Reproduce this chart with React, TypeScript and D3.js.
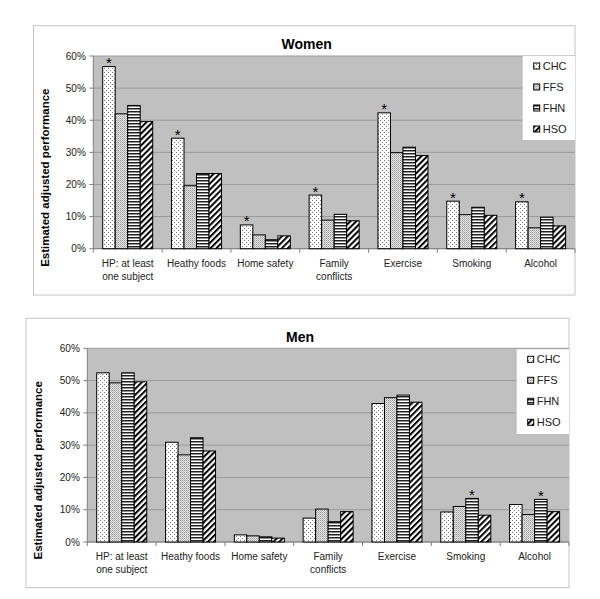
import React from "react";
import * as d3 from "d3";

const categories: string[][] = [
  ["HP: at least", "one subject"],
  ["Heathy foods"],
  ["Home safety"],
  ["Family", "conflicts"],
  ["Exercise"],
  ["Smoking"],
  ["Alcohol"],
];
const seriesNames = ["CHC", "FFS", "FHN", "HSO"];
const yTicks = [0, 10, 20, 30, 40, 50, 60];

const womenCHC = [56.7, 34.4, 7.4, 16.7, 42.3, 14.8, 14.6];
const womenFFS = [42.0, 19.6, 4.3, 8.9, 29.9, 10.6, 6.5];
const womenFHN = [44.6, 23.4, 2.8, 10.7, 31.6, 12.9, 9.8];
const womenHSO = [39.6, 23.4, 4.0, 8.7, 29.0, 10.4, 7.1];
const womenStars: [number, number][] = [[0, 0], [1, 0], [2, 0], [3, 0], [4, 0], [5, 0], [6, 0]];

const menCHC = [52.4, 30.9, 2.2, 7.4, 42.9, 9.3, 11.6];
const menFFS = [49.3, 27.0, 1.9, 10.2, 44.7, 11.0, 8.5];
const menFHN = [52.4, 32.3, 1.6, 6.3, 45.5, 13.5, 13.2];
const menHSO = [49.6, 28.2, 1.2, 9.4, 43.3, 8.3, 9.4];
const menStars: [number, number][] = [[5, 2], [6, 2]];

const FONT = "'Liberation Sans', Arial, sans-serif";
const fills = ["url(#pCHC)", "url(#pFFS)", "url(#pFHN)", "url(#pHSO)"];

type PanelProps = {
  title: string;
  data: number[][];
  stars: [number, number][];
  box: { x: number; y: number; w: number; h: number };
  plot: { x: number; y: number; w: number; h: number };
  legend: { x: number; y: number; w: number; h: number };
};

function Panel({ title, data, stars, box, plot, legend }: PanelProps) {
  const x0 = d3
    .scaleBand<number>()
    .domain(categories.map((_, i) => i))
    .range([plot.x, plot.x + plot.w])
    .paddingInner(0.273)
    .paddingOuter(0.1365);
  const step = x0.step();
  const x1 = d3
    .scaleBand<number>()
    .domain(seriesNames.map((_, i) => i))
    .range([0, x0.bandwidth()]);
  const y = d3.scaleLinear().domain([0, 60]).range([plot.y + plot.h, plot.y]);
  const base = plot.y + plot.h;

  return (
    <g>
      <rect x={box.x} y={box.y} width={box.w} height={box.h} fill="#fff" stroke="#c4c4c4" strokeWidth={1} />
      <text x={box.x + box.w / 2 + 2.5} y={box.y + 23.5} textAnchor="middle" fontFamily={FONT} fontWeight="bold" fontSize={14}>
        {title}
      </text>
      <rect x={plot.x} y={plot.y} width={plot.w} height={plot.h} fill="#c0c0c0" />
      {yTicks.map((t) => (
        <line key={"g" + t} x1={plot.x} x2={plot.x + plot.w} y1={y(t)} y2={y(t)} stroke="#9a9a9a" strokeWidth={1} />
      ))}
      <line x1={plot.x} x2={plot.x} y1={plot.y} y2={base} stroke="#808080" />
      <line x1={plot.x} x2={plot.x + plot.w} y1={base} y2={base} stroke="#808080" />
      {yTicks.map((t) => (
        <g key={"t" + t}>
          <line x1={plot.x - 4} x2={plot.x} y1={y(t)} y2={y(t)} stroke="#808080" />
          <text x={plot.x - 7.5} y={y(t)} dy="0.35em" textAnchor="end" fontFamily={FONT} fontSize={10} fill="#222">
            {t + "%"}
          </text>
        </g>
      ))}
      {categories.map((_, i) => (
        <line key={"xt" + i} x1={plot.x + i * step} x2={plot.x + i * step} y1={base} y2={base + 4} stroke="#808080" />
      ))}
      <line x1={plot.x + plot.w} x2={plot.x + plot.w} y1={base} y2={base + 4} stroke="#808080" />
      {categories.map((lines, i) => (
        <text key={"c" + i} textAnchor="middle" fontFamily={FONT} fontSize={10} fill="#222">
          {lines.map((l, j) => (
            <tspan key={j} x={(x0(i) as number) + x0.bandwidth() / 2} y={base + 17.8 + j * 13}>
              {l}
            </tspan>
          ))}
        </text>
      ))}
      {data.map((series, s) =>
        series.map((v, i) => (
          <rect
            key={"b" + s + "-" + i}
            x={(x0(i) as number) + (x1(s) as number)}
            y={y(v)}
            width={x1.bandwidth()}
            height={base - y(v)}
            fill={fills[s]}
            stroke="#000"
            strokeWidth={1}
          />
        ))
      )}
      {stars.map(([i, s]) => (
        <text
          key={"s" + i + s}
          x={(x0(i) as number) + (x1(s) as number) + x1.bandwidth() / 2}
          y={y(data[s][i]) + 1.5}
          textAnchor="middle"
          fontFamily={FONT}
          fontSize={15}
        >
          *
        </text>
      ))}
      <rect x={legend.x} y={legend.y} width={legend.w} height={legend.h} fill="#fff" />
      {seriesNames.map((n, s) => (
        <g key={"l" + s}>
          <rect x={legend.x + 11} y={legend.y + 10 + s * 21 - 3} width={6} height={6} fill={fills[s]} stroke="#000" strokeWidth={1} />
          <text x={legend.x + 20} y={legend.y + 10 + s * 21} dy="0.36em" fontFamily={FONT} fontSize={11} fill="#222">
            {n}
          </text>
        </g>
      ))}
      <text
        transform={`translate(${box.x + 11.5 + 4},${box.y + 152}) rotate(-90)`}
        textAnchor="middle"
        fontFamily={FONT}
        fontWeight="bold"
        fontSize={11.5}
      >
        Estimated adjusted performance
      </text>
    </g>
  );
}

export default function App() {
  return (
    <svg width={600} height={599} style={{ position: "absolute", left: 0, top: 0 }}>
      <defs>
        <pattern id="pCHC" patternUnits="userSpaceOnUse" width={4} height={4}>
          <rect width={4} height={4} fill="#fff" />
          <rect x={0} y={0} width={1} height={1} fill="#777" />
          <rect x={2} y={2} width={1} height={1} fill="#777" />
        </pattern>
        <pattern id="pFFS" patternUnits="userSpaceOnUse" width={2} height={2}>
          <rect width={2} height={2} fill="#e4e4e4" />
          <rect x={0} y={0} width={1} height={1} fill="#999" />
          <rect x={1} y={1} width={1} height={1} fill="#bbb" />
        </pattern>
        <pattern id="pFHN" patternUnits="userSpaceOnUse" width={4} height={3}>
          <rect width={4} height={3} fill="#fff" />
          <rect x={0} y={0} width={4} height={1.5} fill="#222" />
        </pattern>
        <pattern id="pHSO" patternUnits="userSpaceOnUse" width={4.2} height={4.2} patternTransform="rotate(45)">
          <rect width={4.2} height={4.2} fill="#fff" />
          <rect x={0} y={0} width={2} height={4.2} fill="#000" />
        </pattern>
      </defs>
      <Panel
        title="Women"
        data={[womenCHC, womenFFS, womenFHN, womenHSO]}
        stars={womenStars}
        box={{ x: 33.5, y: 25.7, w: 541.5, h: 269.3 }}
        plot={{ x: 93.3, y: 56, w: 481.7, h: 192.7 }}
        legend={{ x: 522.7, y: 56, w: 52.3, h: 84 }}
      />
      <Panel
        title="Men"
        data={[menCHC, menFFS, menFHN, menHSO]}
        stars={menStars}
        box={{ x: 26, y: 318.3, w: 543, h: 269.3 }}
        plot={{ x: 87.3, y: 348.3, w: 481.7, h: 193.7 }}
        legend={{ x: 516.7, y: 349.3, w: 52.3, h: 84.7 }}
      />
    </svg>
  );
}
